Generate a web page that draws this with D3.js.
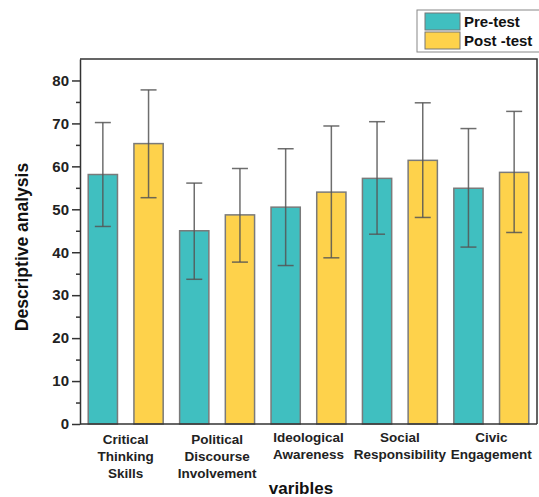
<!DOCTYPE html>
<html>
<head>
<meta charset="utf-8">
<script src="https://cdn.jsdelivr.net/npm/d3@7"></script>
<style>
  body { margin: 0; background: #fff; }
  svg { font-family: "Liberation Sans", Arial, sans-serif; }
  .y-axis text { font-size: 15px; font-weight: bold; fill: #222; }
  .y-axis path, .y-axis line { stroke: #333; stroke-width: 1.5; }
</style>
</head>
<body>
<svg id="chart"></svg>
<script>
const categories = [
    ["Critical", "Thinking", "Skills"],
    ["Political", "Discourse", "Involvement"],
    ["Ideological", "Awareness"],
    ["Social", "Responsibility"],
    ["Civic", "Engagement"]
];
const seriesNames = ["Pre-test", "Post -test"];
const preMean = [58.1, 45.0, 50.5, 57.2, 54.9];
const preLow = [46.0, 33.7, 36.9, 44.2, 41.2];
const preHigh = [70.2, 56.1, 64.1, 70.4, 68.8];
const postMean = [65.3, 48.7, 54.0, 61.4, 58.6];
const postLow = [52.7, 37.7, 38.7, 48.1, 44.6];
const postHigh = [77.8, 59.5, 69.4, 74.8, 72.8];
const yTicks = [0, 10, 20, 30, 40, 50, 60, 70, 80];

const width = 539, height = 497;
const colors = ["#40bfc0", "#fed24b"];

const svg = d3.select("#chart")
    .attr("width", width)
    .attr("height", height);

const plotLeft = 80, plotRight = 537, plotTop = 59, plotBottom = 424;

const x0 = d3.scaleBand()
    .domain(d3.range(categories.length))
    .range([plotLeft, plotRight])
    .padding(0);

const x1 = d3.scaleBand()
    .domain([0, 1])
    .range([0, x0.bandwidth()])
    .paddingInner(0.36)
    .paddingOuter(0.18);

const y = d3.scaleLinear()
    .domain([0, 85])
    .range([plotBottom, plotTop]);

// rows: one per bar
const rows = [];
categories.forEach((c, i) => {
    rows.push({ g: i, s: 0, mean: preMean[i], lo: preLow[i], hi: preHigh[i] });
    rows.push({ g: i, s: 1, mean: postMean[i], lo: postLow[i], hi: postHigh[i] });
});

// frame
svg.append("path")
    .attr("d", `M${plotLeft},${plotTop}H${plotRight}V${plotBottom}`)
    .attr("fill", "none")
    .attr("stroke", "#333")
    .attr("stroke-width", 1.5);

// bars
svg.append("g").selectAll("rect")
    .data(rows)
    .join("rect")
    .attr("x", d => x0(d.g) + x1(d.s))
    .attr("y", d => y(d.mean))
    .attr("width", x1.bandwidth())
    .attr("height", d => y(0) - y(d.mean))
    .attr("fill", d => colors[d.s])
    .attr("stroke", "#7a7a7a")
    .attr("stroke-width", 1.5);

// error bars
const err = svg.append("g")
    .attr("stroke", "#555")
    .attr("stroke-opacity", 0.85)
    .attr("stroke-width", 1.5);
const cx = d => x0(d.g) + x1(d.s) + x1.bandwidth() / 2;
err.selectAll("line.v")
    .data(rows)
    .join("line")
    .attr("class", "v")
    .attr("x1", cx).attr("x2", cx)
    .attr("y1", d => y(d.lo)).attr("y2", d => y(d.hi));
err.selectAll("line.top")
    .data(rows)
    .join("line")
    .attr("class", "top")
    .attr("x1", d => cx(d) - 8).attr("x2", d => cx(d) + 8)
    .attr("y1", d => y(d.hi)).attr("y2", d => y(d.hi));
err.selectAll("line.bot")
    .data(rows)
    .join("line")
    .attr("class", "bot")
    .attr("x1", d => cx(d) - 8).attr("x2", d => cx(d) + 8)
    .attr("y1", d => y(d.lo)).attr("y2", d => y(d.lo));

// y axis
svg.append("g")
    .attr("class", "y-axis")
    .attr("transform", `translate(${plotLeft},0)`)
    .call(d3.axisLeft(y).tickValues(yTicks).tickSize(8).tickPadding(3).tickSizeOuter(0));

svg.append("g")
    .attr("class", "y-axis")
    .attr("transform", `translate(${plotLeft},0)`)
    .call(d3.axisLeft(y).tickValues(d3.range(5, 85, 10)).tickSize(4).tickFormat(""))
    .call(g => g.select(".domain").remove());

// x axis line
svg.append("line")
    .attr("x1", plotLeft).attr("x2", plotRight)
    .attr("y1", plotBottom).attr("y2", plotBottom)
    .attr("stroke", "#333")
    .attr("stroke-width", 1.5);

// category labels
const catLabels = svg.append("g")
    .attr("font-size", "13.5px")
    .attr("font-weight", "bold")
    .attr("fill", "#222")
    .attr("text-anchor", "middle");
categories.forEach((lines, i) => {
    const t = catLabels.append("text")
        .attr("x", x0(i) + x0.bandwidth() / 2)
        .attr("y", lines.length === 3 ? 444 : 442);
    lines.forEach((ln, j) => {
        t.append("tspan")
            .attr("x", x0(i) + x0.bandwidth() / 2)
            .attr("dy", j === 0 ? 0 : 17)
            .text(ln);
    });
});

// axis titles
svg.append("text")
    .attr("transform", `translate(28,247) rotate(-90)`)
    .attr("text-anchor", "middle")
    .attr("font-size", "17.5px")
    .attr("font-weight", "bold")
    .attr("fill", "#111")
    .text("Descriptive analysis");

svg.append("text")
    .attr("x", 301)
    .attr("y", 494)
    .attr("text-anchor", "middle")
    .attr("font-size", "17px")
    .attr("font-weight", "bold")
    .attr("fill", "#111")
    .text("varibles");

// legend
const legend = svg.append("g");
legend.append("rect")
    .attr("x", 417).attr("y", 10)
    .attr("width", 130).attr("height", 42)
    .attr("fill", "#fff")
    .attr("stroke", "#888")
    .attr("stroke-width", 1);
seriesNames.forEach((name, i) => {
    legend.append("rect")
        .attr("x", 425).attr("y", 13 + i * 19)
        .attr("width", 35).attr("height", 17)
        .attr("fill", colors[i])
        .attr("stroke", "#777")
        .attr("stroke-width", 1);
    legend.append("text")
        .attr("x", 464).attr("y", 27 + i * 19)
        .attr("font-size", "15px")
        .attr("font-weight", "bold")
        .attr("fill", "#111")
        .text(name);
});
</script>
</body>
</html>
